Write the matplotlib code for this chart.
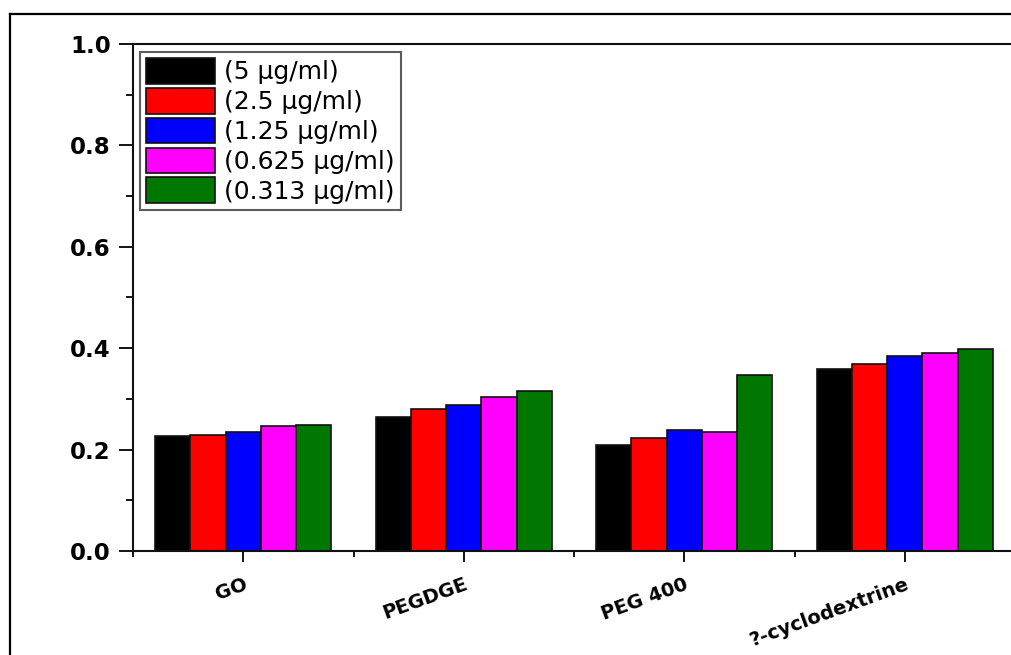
import matplotlib
matplotlib.use("Agg")
import matplotlib.pyplot as plt
from matplotlib.lines import Line2D
from matplotlib.ticker import MultipleLocator, FixedLocator
import numpy as np

categories = ["GO", "PEGDGE", "PEG 400", "?-cyclodextrine"]
series_labels = ["(5 \u03bcg/ml)", "(2.5 \u03bcg/ml)", "(1.25 \u03bcg/ml)",
                 "(0.625 \u03bcg/ml)", "(0.313 \u03bcg/ml)"]
conc_5 = [0.227, 0.265, 0.210, 0.359]
conc_2_5 = [0.229, 0.281, 0.223, 0.369]
conc_1_25 = [0.235, 0.288, 0.239, 0.385]
conc_0_625 = [0.246, 0.304, 0.235, 0.390]
conc_0_313 = [0.249, 0.316, 0.347, 0.398]
series = [conc_5, conc_2_5, conc_1_25, conc_0_625, conc_0_313]
colors = ["#000000", "#ff0000", "#0000ff", "#ff00ff", "#007800"]
y_ticks = [0.0, 0.2, 0.4, 0.6, 0.8, 1.0]

W, H = 1011, 655
fig = plt.figure(figsize=(W / 100, H / 100), dpi=100)

# outer frame (left and top edges visible)
fig.add_artist(Line2D([10 / W, 10 / W], [0, 1 - 14 / H], transform=fig.transFigure,
                      color="black", lw=1.6))
fig.add_artist(Line2D([10 / W, 1], [1 - 14 / H, 1 - 14 / H], transform=fig.transFigure,
                      color="black", lw=1.6))

left, right, bottom, top = 133, 1015, 551, 44
ax = fig.add_axes([left / W, (H - bottom) / H, (right - left) / W, (bottom - top) / H])

x = np.arange(1, len(categories) + 1)
width = 0.16
n = len(series)
for i, (vals, c, lab) in enumerate(zip(series, colors, series_labels)):
    ax.bar(x + (i - (n - 1) / 2) * width, vals, width, color=c, edgecolor="#111111",
           linewidth=1.2, label=lab, zorder=2)

ax.set_xlim(0.5, len(categories) + 0.5)
ax.set_ylim(0, 1.0)
ax.set_yticks(y_ticks)
ax.set_yticklabels([f"{v:.1f}" for v in y_ticks])
ax.yaxis.set_minor_locator(MultipleLocator(0.1))
ax.set_xticks(x)
ax.xaxis.set_minor_locator(FixedLocator(np.arange(0.5, len(categories) + 1, 1.0)))

for lab in ax.get_yticklabels():
    lab.set_fontfamily("DejaVu Sans")
    lab.set_fontweight("bold")
    lab.set_fontsize(16.5)
ax.set_xticklabels(categories, rotation=20, ha="right", va="top",
                   rotation_mode="anchor", fontfamily="DejaVu Sans",
                   fontweight="bold", fontsize=14)

ax.tick_params(axis="y", which="major", direction="out", length=10, width=1.3, pad=6)
ax.tick_params(axis="y", which="minor", direction="out", length=5, width=1.3)
ax.tick_params(axis="x", which="major", direction="out", length=8, width=1.3, pad=9)
ax.tick_params(axis="x", which="minor", direction="out", length=4.5, width=1.3)

for s in ax.spines.values():
    s.set_linewidth(1.5)
    s.set_color("#111111")

leg = ax.legend(loc="upper left", bbox_to_anchor=((140 - left) / (right - left), 1 - (52 - top) / (bottom - top)),
                prop={"family": "DejaVu Sans", "size": 18}, frameon=True, fancybox=False,
                edgecolor="#333333", handlelength=2.75, handleheight=1.2,
                labelspacing=0.14, borderpad=0.25, handletextpad=0.35, borderaxespad=0)
leg.get_frame().set_linewidth(1.5)

fig.savefig("out.png", dpi=100)
